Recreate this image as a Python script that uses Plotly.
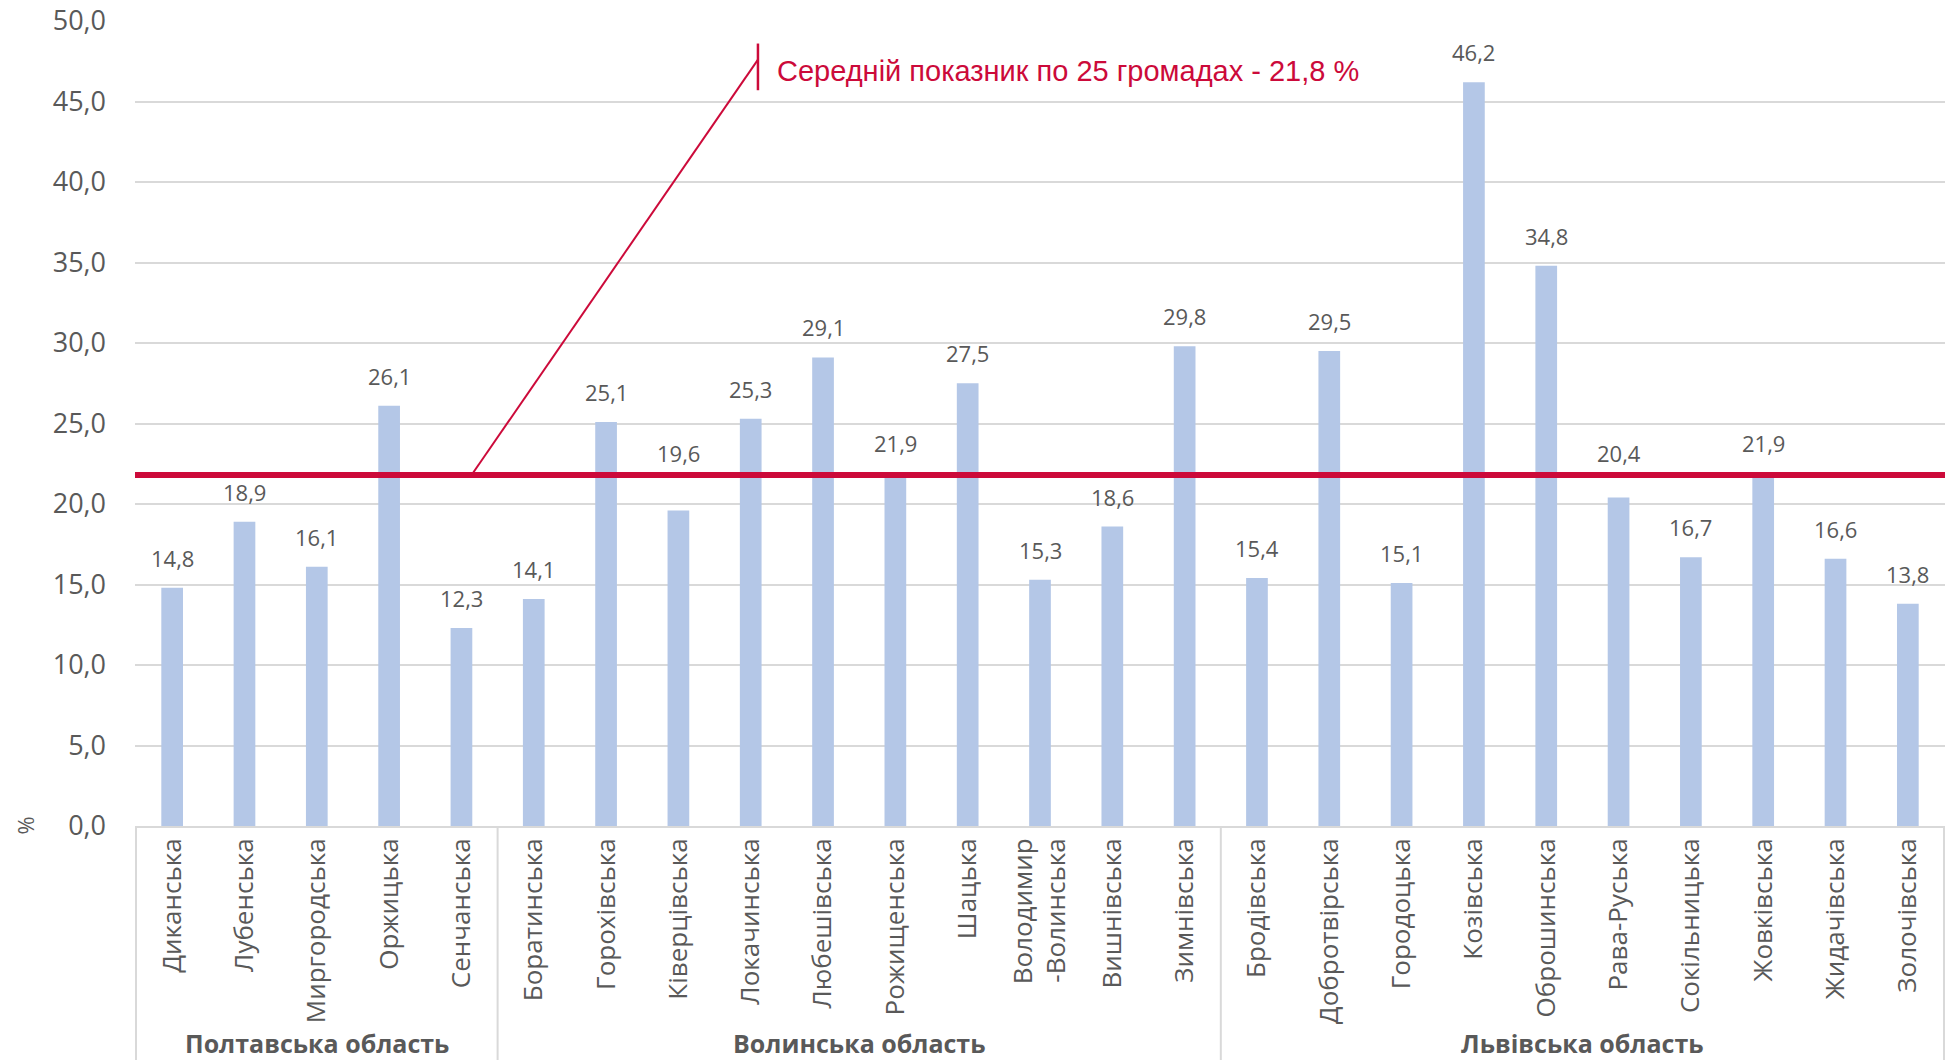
import plotly.graph_objects as go

# громади and their values (%)
communities = [
    "Диканська", "Лубенська", "Миргородська", "Оржицька", "Сенчанська",
    "Боратинська", "Горохівська", "Ківерцівська", "Локачинська", "Любешівська",
    "Рожищенська", "Шацька", "Володимир<br>-Волинська", "Вишнівська", "Зимнівська",
    "Бродівська", "Добротвірська", "Городоцька", "Козівська", "Оброшинська",
    "Рава-Руська", "Сокільницька", "Жовківська", "Жидачівська", "Золочівська",
]
values = [
    14.8, 18.9, 16.1, 26.1, 12.3,
    14.1, 25.1, 19.6, 25.3, 29.1,
    21.9, 27.5, 15.3, 18.6, 29.8,
    15.4, 29.5, 15.1, 46.2, 34.8,
    20.4, 16.7, 21.9, 16.6, 13.8,
]
regions = ["Полтавська область", "Волинська область", "Львівська область"]
region_sizes = [5, 10, 10]
mean_value = 21.8
mean_label = "Середній показник по 25 громадах - 21,8 %"

GREY = "#595959"
GRID = "#D9D9D9"
RED = "#CC0A3A"

fig = go.Figure()
fig.add_trace(go.Bar(
    x=communities,
    y=values,
    marker=dict(color="#B4C7E7", line=dict(width=0)),
    hoverinfo="skip",
))

shapes = []
annotations = []

# value labels above the bars; labels that would sit on the mean line are lifted over it
for name, v in zip(communities, values):
    if mean_value - 2.8 < v < mean_value - 0.5:
        y, shift = mean_value, 5
    else:
        y, shift = v, 13
    annotations.append(dict(x=name, y=y, xref="x", yref="y",
                            text=f"{v:.1f}".replace(".", ","), showarrow=False,
                            yanchor="bottom", yshift=shift,
                            font=dict(family="Open Sans", size=22, color=GREY)))

# average line
shapes.append(dict(type="line", xref="paper", yref="y", x0=0, x1=1,
                   y0=mean_value, y1=mean_value,
                   line=dict(color=RED, width=6), layer="above"))
# callout leader line and tick
shapes.append(dict(type="line", xref="x", yref="y", x0=4.14, y0=mean_value,
                   x1=8.1, y1=47.6, line=dict(color=RED, width=2)))
shapes.append(dict(type="line", xref="x", yref="y", x0=8.1, y0=45.7,
                   x1=8.1, y1=48.6, line=dict(color=RED, width=2.5)))

# region dividers and labels
start = 0
for name, size in zip(regions, region_sizes):
    shapes.append(dict(type="line", xref="x", yref="paper", x0=start - 0.5, x1=start - 0.5,
                       y0=0, y1=-0.3, line=dict(color=GRID, width=2)))
    annotations.append(dict(x=start + (size - 1) / 2, y=-0.27, xref="x", yref="paper",
                            text=f"<b>{name}</b>", showarrow=False, yanchor="middle",
                            font=dict(family="Open Sans", size=25, color=GREY)))
    start += size
shapes.append(dict(type="line", xref="x", yref="paper", x0=start - 0.5, x1=start - 0.5,
                   y0=0, y1=-0.3, line=dict(color=GRID, width=2)))

annotations.append(dict(x=8.33, y=46.9, xref="x", yref="y", text=mean_label,
                        showarrow=False, xanchor="left", yanchor="middle",
                        font=dict(family="Liberation Sans Narrow, Liberation Sans", size=29, color=RED)))
annotations.append(dict(x=-0.061, y=0, xref="paper", yref="y", text="%", textangle=-90,
                        showarrow=False, xanchor="center", yanchor="middle",
                        font=dict(family="Open Sans", size=22, color=GREY)))

# page body adds an 8px offset, margins compensate for it
fig.update_layout(
    width=1955, height=1060,
    margin=dict(l=127, r=18, t=13, b=242, autoexpand=False),
    plot_bgcolor="white", paper_bgcolor="white",
    bargap=0.7,
    showlegend=False,
    shapes=shapes,
    annotations=annotations,
    xaxis=dict(type="category", tickangle=-90, showgrid=False, automargin=False,
               showline=True, linecolor=GRID, linewidth=2, ticks="",
               tickfont=dict(family="Open Sans", size=26, color=GREY)),
    yaxis=dict(range=[0, 50], dtick=5, showgrid=True, automargin=False,
               tickvals=[0, 5, 10, 15, 20, 25, 30, 35, 40, 45, 50],
               ticktext=["0,0", "5,0", "10,0", "15,0", "20,0", "25,0",
                         "30,0", "35,0", "40,0", "45,0", "50,0"],
               ticklabeloverflow="allow",
               gridcolor=GRID, gridwidth=2, zeroline=False, showline=False,
               ticklabelstandoff=28,
               tickfont=dict(family="Open Sans", size=27, color=GREY)),
)

fig.write_html("out.html")
